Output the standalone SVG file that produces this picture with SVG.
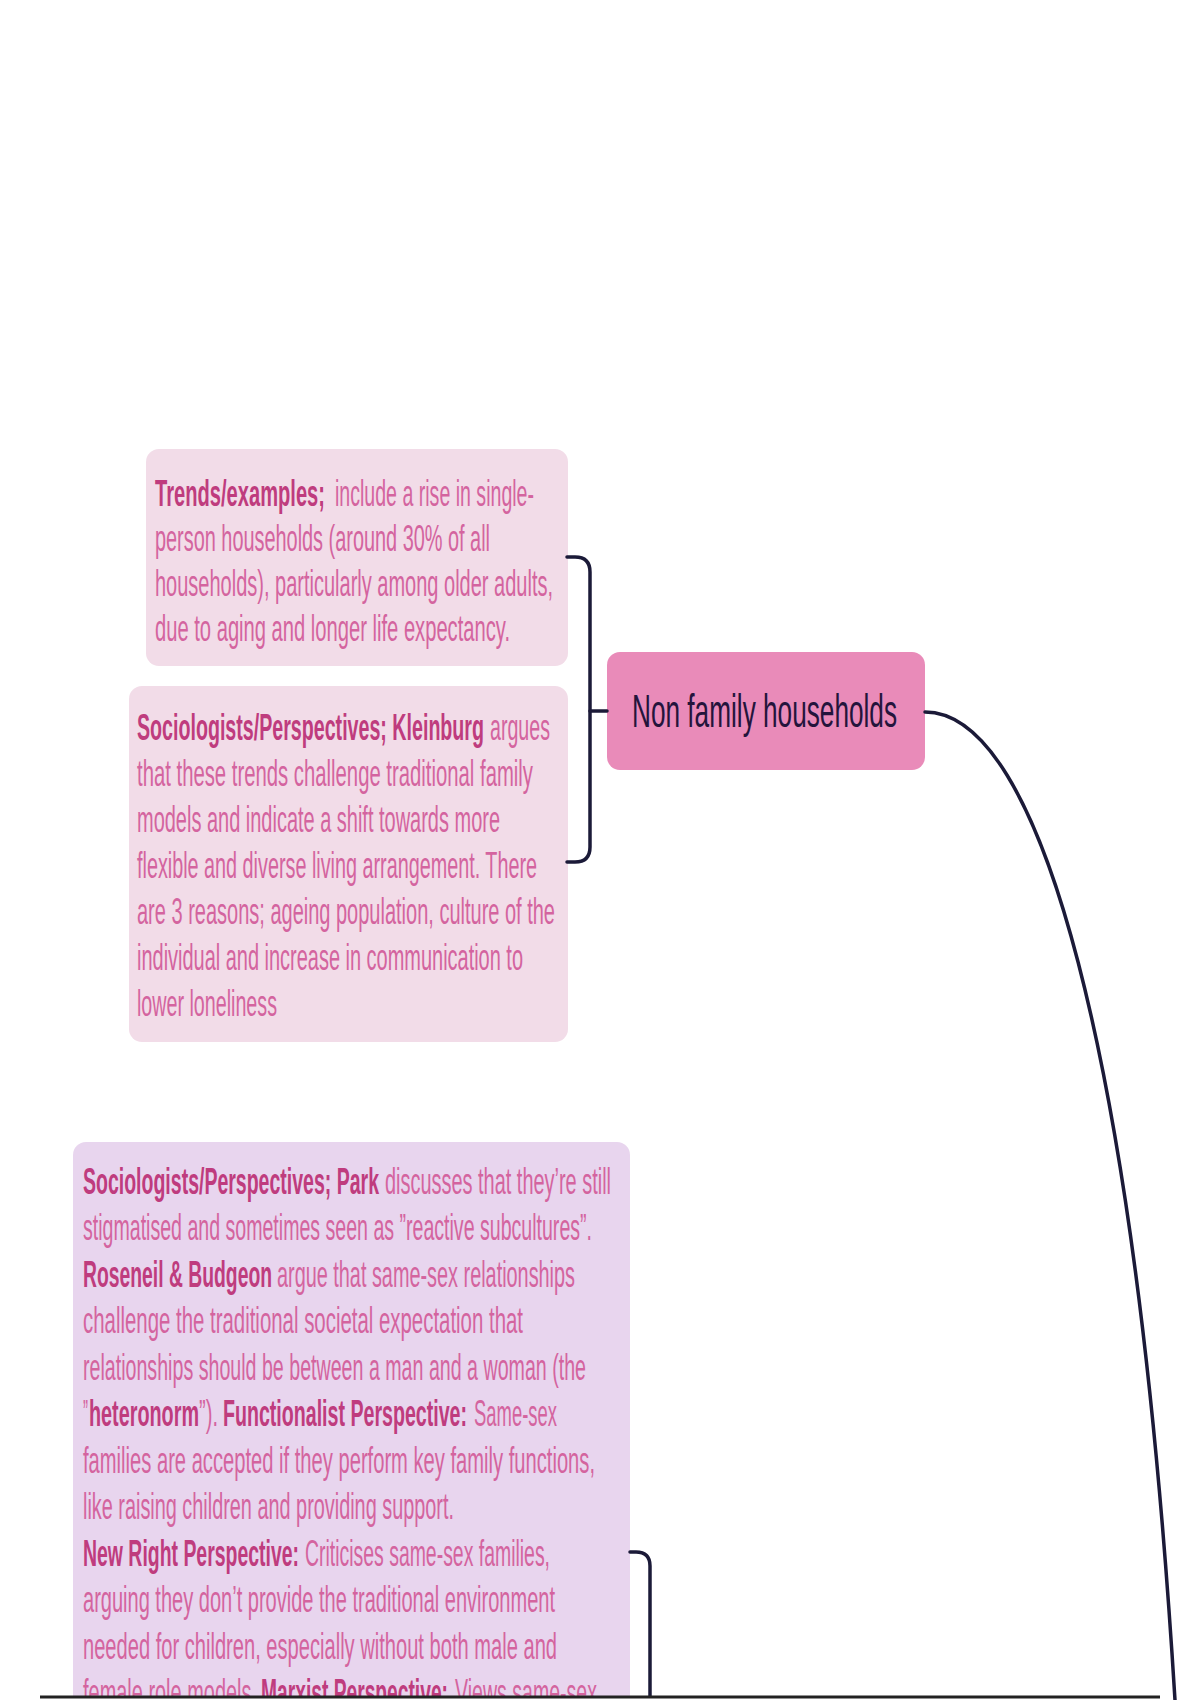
<svg xmlns="http://www.w3.org/2000/svg" width="1200" height="1700" viewBox="0 0 1200 1700">
<style>
.box{fill:#F2DCE8}
.box3{fill:#E8D5EE}
.t{font-family:"Liberation Sans",Arial,sans-serif;font-size:36px;fill:#D4649F}
.b{font-weight:bold;fill:#BF3C7E}
.hub{fill:#E98BB9}
.hubt{font-family:"Liberation Sans",Arial,sans-serif;font-size:46px;fill:#24143C}
.con{fill:none;stroke:#1B1A38;stroke-width:3.5;stroke-linecap:round}
</style>
<rect x="0" y="0" width="1200" height="1700" fill="#FFFFFF"/>

<g id="node-trends">
<rect class="box" x="146" y="449" width="422" height="217" rx="13"/>
<text class="t b" x="155" y="506" textLength="170" lengthAdjust="spacingAndGlyphs">Trends/examples;</text>
<text class="t" x="335" y="506" textLength="199" lengthAdjust="spacingAndGlyphs">include a rise in single-</text>
<text class="t" x="155" y="551" textLength="335" lengthAdjust="spacingAndGlyphs">person households (around 30% of all</text>
<text class="t" x="155" y="596" textLength="398" lengthAdjust="spacingAndGlyphs">households), particularly among older adults,</text>
<text class="t" x="155" y="641" textLength="355" lengthAdjust="spacingAndGlyphs">due to aging and longer life expectancy.</text>
</g>

<g id="node-kleinburg">
<rect class="box" x="129" y="686" width="439" height="356" rx="13"/>
<text class="t b" x="137" y="740" textLength="347" lengthAdjust="spacingAndGlyphs">Sociologists/Perspectives; Kleinburg</text>
<text class="t" x="490" y="740" textLength="60" lengthAdjust="spacingAndGlyphs">argues</text>
<text class="t" x="137" y="786" textLength="396" lengthAdjust="spacingAndGlyphs">that these trends challenge traditional family</text>
<text class="t" x="137" y="832" textLength="363" lengthAdjust="spacingAndGlyphs">models and indicate a shift towards more</text>
<text class="t" x="137" y="878" textLength="400" lengthAdjust="spacingAndGlyphs">flexible and diverse living arrangement. There</text>
<text class="t" x="137" y="924" textLength="418" lengthAdjust="spacingAndGlyphs">are 3 reasons; ageing population, culture of the</text>
<text class="t" x="137" y="970" textLength="386" lengthAdjust="spacingAndGlyphs">individual and increase in communication to</text>
<text class="t" x="137" y="1016" textLength="140" lengthAdjust="spacingAndGlyphs">lower loneliness</text>
</g>

<g id="node-nonfamily">
<rect class="hub" x="607" y="652" width="318" height="118" rx="13"/>
<text class="hubt" x="632" y="727" textLength="265" lengthAdjust="spacingAndGlyphs">Non family households</text>
</g>

<g id="node-samesex">
<rect class="box3" x="73" y="1142" width="557" height="600" rx="13"/>
<text class="t b" x="83" y="1194" textLength="296" lengthAdjust="spacingAndGlyphs">Sociologists/Perspectives; Park</text>
<text class="t" x="385" y="1194" textLength="226" lengthAdjust="spacingAndGlyphs">discusses that they’re still</text>
<text class="t" x="83" y="1240" textLength="509" lengthAdjust="spacingAndGlyphs">stigmatised and sometimes seen as ”reactive subcultures”.</text>
<text class="t b" x="83" y="1287" textLength="189" lengthAdjust="spacingAndGlyphs">Roseneil &amp; Budgeon</text>
<text class="t" x="277" y="1287" textLength="298" lengthAdjust="spacingAndGlyphs">argue that same-sex relationships</text>
<text class="t" x="83" y="1333" textLength="440" lengthAdjust="spacingAndGlyphs">challenge the traditional societal expectation that</text>
<text class="t" x="83" y="1380" textLength="503" lengthAdjust="spacingAndGlyphs">relationships should be between a man and a woman (the</text>
<text class="t" x="83" y="1426" textLength="5" lengthAdjust="spacingAndGlyphs">”</text>
<text class="t b" x="89" y="1426" textLength="110" lengthAdjust="spacingAndGlyphs">heteronorm</text>
<text class="t" x="199" y="1426" textLength="19" lengthAdjust="spacingAndGlyphs">”).</text>
<text class="t b" x="223" y="1426" textLength="244" lengthAdjust="spacingAndGlyphs">Functionalist Perspective:</text>
<text class="t" x="474" y="1426" textLength="83" lengthAdjust="spacingAndGlyphs">Same-sex</text>
<text class="t" x="83" y="1473" textLength="512" lengthAdjust="spacingAndGlyphs">families are accepted if they perform key family functions,</text>
<text class="t" x="83" y="1519" textLength="371" lengthAdjust="spacingAndGlyphs">like raising children and providing support.</text>
<text class="t b" x="83" y="1566" textLength="216" lengthAdjust="spacingAndGlyphs">New Right Perspective:</text>
<text class="t" x="305" y="1566" textLength="245" lengthAdjust="spacingAndGlyphs">Criticises same-sex families,</text>
<text class="t" x="83" y="1612" textLength="472" lengthAdjust="spacingAndGlyphs">arguing they don’t provide the traditional environment</text>
<text class="t" x="83" y="1659" textLength="474" lengthAdjust="spacingAndGlyphs">needed for children, especially without both male and</text>
<text class="t" x="83" y="1705" textLength="174" lengthAdjust="spacingAndGlyphs">female role models.</text>
<text class="t b" x="261" y="1705" textLength="187" lengthAdjust="spacingAndGlyphs">Marxist Perspective:</text>
<text class="t" x="455" y="1705" textLength="142" lengthAdjust="spacingAndGlyphs">Views same-sex</text>
</g>

<g id="connectors">
<path class="con" d="M567,557 H575 Q590,557 590,572 V847 Q590,862 575,862 H567"/>
<path class="con" d="M590,711 H607"/>
<path class="con" d="M925,712 C1040,712 1135,1050 1175,1700"/>
<path class="con" d="M630,1552 H636 Q650,1552 650,1566 V1700"/>
</g>

<rect x="0" y="1698" width="1162" height="2" fill="#FFFFFF"/>
<line x1="40" y1="1697" x2="1160" y2="1697" stroke="#222222" stroke-width="3"/>
</svg>
